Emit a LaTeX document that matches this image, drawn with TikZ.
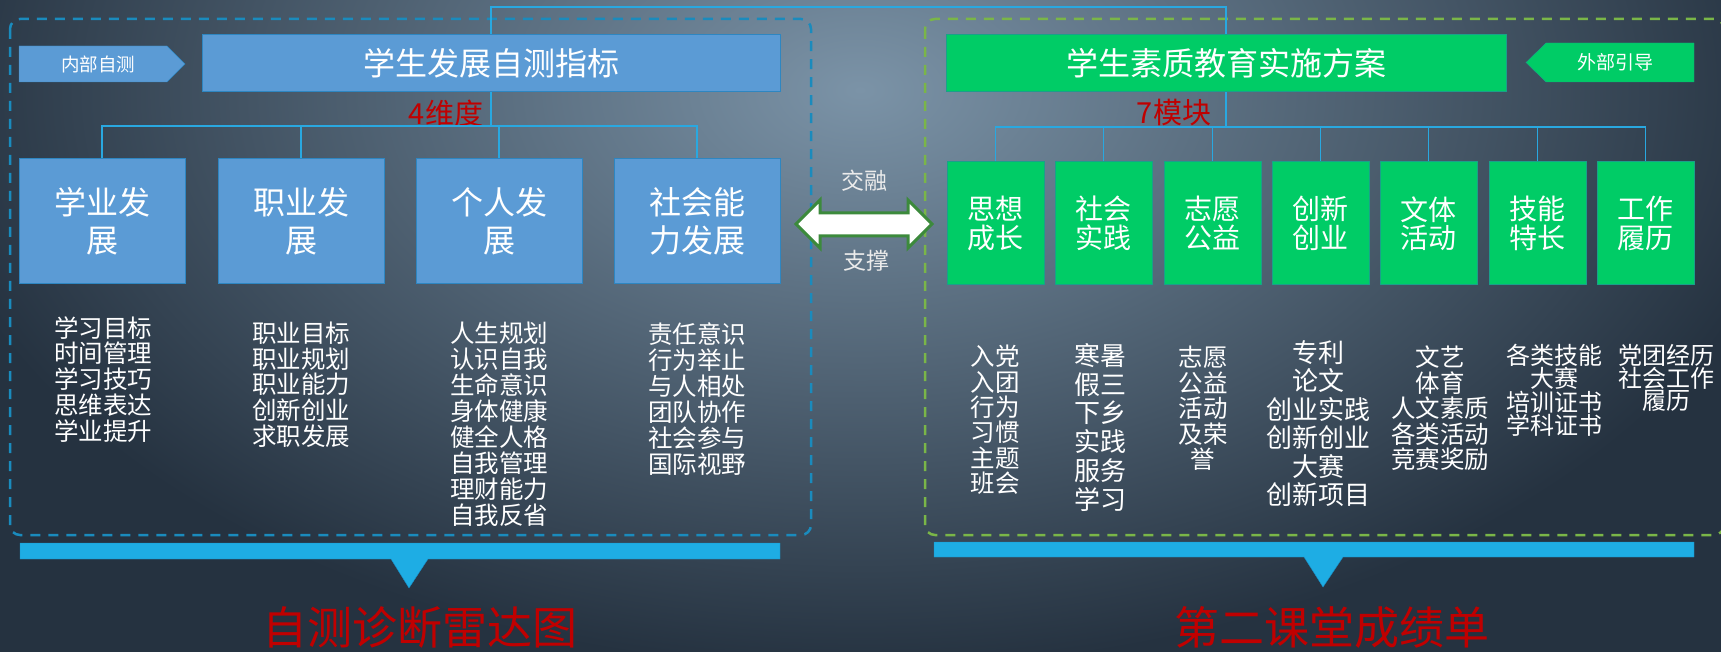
\documentclass[tikz,border=0pt]{standalone}
\usepackage{fontspec}
\setmainfont{Noto Sans CJK SC}
\definecolor{bgdark}{HTML}{253240}
\definecolor{bglight}{HTML}{7B93A7}
\definecolor{boxblue}{HTML}{5B9BD5}
\definecolor{boxblueline}{HTML}{2E86C1}
\definecolor{boxgreen}{HTML}{00CC66}
\definecolor{boxgreenline}{HTML}{1AA08A}
\definecolor{linkblue}{HTML}{29A8E0}
\definecolor{barblue}{HTML}{1EADE4}
\definecolor{barline}{HTML}{1A8CC4}
\definecolor{dimred}{HTML}{C00000}
\definecolor{dashblue}{HTML}{1A8BBD}
\definecolor{dashgreen}{HTML}{7AB648}
\definecolor{arrowgreen}{HTML}{3C8A3C}

\begin{document}
\begin{tikzpicture}[x=1pt,y=-1pt,
  link/.style={draw=linkblue,line width=1.5pt},
  titlebox/.style={minimum height=57pt,inner sep=0pt,text=white,line width=1pt,font=\fontsize{32}{38}\selectfont},
  lbox/.style={minimum width=166pt,minimum height=125pt,inner sep=0pt,fill=boxblue,draw=boxblueline,line width=1pt,text=white,align=center,font=\fontsize{32}{38}\selectfont},
  rbox/.style={minimum width=97pt,minimum height=123pt,inner sep=0pt,fill=boxgreen,draw=boxgreenline,line width=1pt,text=white,align=center,font=\fontsize{28}{28.5}\selectfont},
  listtext/.style={text=white,align=center,inner sep=0pt,anchor=north},
  redtext/.style={text=dimred,inner sep=0pt}]
  \useasboundingbox (0,0) rectangle (1721,652);
  \fill[bgdark] (0,0) rectangle (1721,652);
  \begin{scope}
    \clip (0,0) rectangle (1721,652);
    \shade[inner color=bglight,outer color=bgdark] (860,90) ellipse (950pt and 580pt);
    \draw[dashblue,line width=2.5pt,dash pattern=on 10pt off 8pt,rounded corners=10pt] (10,19) rectangle (811,535);
    \draw[dashgreen,line width=2.5pt,dash pattern=on 10pt off 8pt,rounded corners=10pt] (925,19) rectangle (1724,535);
  \end{scope}

  \fill[boxblue,draw=boxblueline] (19,46) -- (167,46) -- (185,64) -- (167,82) -- (19,82) -- cycle;
  \fill[boxgreen,draw=boxgreenline] (1526,62.5) -- (1546,43) -- (1694,43) -- (1694,82) -- (1546,82) -- cycle;
  \node[text=white,font=\fontsize{18.5}{20}\selectfont] (inner) at (98,64) {内部自测};
  \node[text=white,font=\fontsize{19}{20}\selectfont] (outer) at (1615,62) {外部引导};

  \node[titlebox,minimum width=578pt,fill=boxblue,draw=boxblueline] (ltitle) at (491,63.5) {学生发展自测指标};
  \node[titlebox,minimum width=560pt,fill=boxgreen,draw=boxgreenline] (rtitle) at (1226,63.5) {学生素质教育实施方案};

  \node[redtext,font=\fontsize{29}{30}\selectfont] (wei) at (446,113) {4维度};
  \node[redtext,font=\fontsize{29}{30}\selectfont] (mokuai) at (1174,113) {7模块};

  \node[lbox] (xueye) at (102,221.5) {学业发\\展};
  \node[lbox] (zhiye) at (301,221.5) {职业发\\展};
  \node[lbox] (geren) at (499,221.5) {个人发\\展};
  \node[lbox] (shehui) at (697,221.5) {社会能\\力发展};

  \node[rbox] (sixiang) at (995.5,223.5) {思想\\成长};
  \node[rbox] (shijian) at (1103.5,223.5) {社会\\实践};
  \node[rbox] (zhiyuan) at (1212.5,223.5) {志愿\\公益};
  \node[rbox] (chuangxin) at (1320.5,223.5) {创新\\创业};
  \node[rbox] (wenti) at (1428.5,223.5) {文体\\活动};
  \node[rbox] (jineng) at (1537.5,223.5) {技能\\特长};
  \node[rbox] (gongzuo) at (1645.5,223.5) {工作\\履历};

  \coordinate (top) at (0,7);
  \coordinate (lbus) at (0,126);
  \coordinate (rbus) at (0,127);
  \draw[link] (ltitle.north) -- (ltitle.north |- top) -| (rtitle.north);
  \draw[link] (ltitle.south) -- (ltitle.south |- lbus) -| (xueye.north);
  \draw[link] (ltitle.south) -- (ltitle.south |- lbus) -| (zhiye.north);
  \draw[link] (ltitle.south) -- (ltitle.south |- lbus) -| (geren.north);
  \draw[link] (ltitle.south) -- (ltitle.south |- lbus) -| (shehui.north);
  \draw[link] (rtitle.south) -- (rtitle.south |- rbus) -| (sixiang.north);
  \draw[link] (rtitle.south) -- (rtitle.south |- rbus) -| (shijian.north);
  \draw[link] (rtitle.south) -- (rtitle.south |- rbus) -| (zhiyuan.north);
  \draw[link] (rtitle.south) -- (rtitle.south |- rbus) -| (chuangxin.north);
  \draw[link] (rtitle.south) -- (rtitle.south |- rbus) -| (wenti.north);
  \draw[link] (rtitle.south) -- (rtitle.south |- rbus) -| (jineng.north);
  \draw[link] (rtitle.south) -- (rtitle.south |- rbus) -| (gongzuo.north);

  \node[listtext,font=\fontsize{24.5}{25.8}\selectfont] (xueyelist) at (103,316) {学习目标\\时间管理\\学习技巧\\思维表达\\学业提升};
  \node[listtext,font=\fontsize{24.5}{25.6}\selectfont] (zhiyelist) at (301,322) {职业目标\\职业规划\\职业能力\\创新创业\\求职发展};
  \node[listtext,font=\fontsize{24.5}{26}\selectfont] (gerenlist) at (499,322) {人生规划\\认识自我\\生命意识\\身体健康\\健全人格\\自我管理\\理财能力\\自我反省};
  \node[listtext,font=\fontsize{24.5}{26}\selectfont] (shehuilist) at (697,322) {责任意识\\行为举止\\与人相处\\团队协作\\社会参与\\国际视野};

  \node[listtext,font=\fontsize{24.5}{25.4}\selectfont] (sixianglist) at (995,345) {入党\\入团\\行为\\习惯\\主题\\班会};
  \node[listtext,font=\fontsize{26}{28.8}\selectfont] (shijianlist) at (1100,343) {寒暑\\假三\\下乡\\实践\\服务\\学习};
  \node[listtext,font=\fontsize{24.5}{25.5}\selectfont] (zhiyuanlist) at (1203,346) {志愿\\公益\\活动\\及荣\\誉};
  \node[listtext,font=\fontsize{26}{28.5}\selectfont] (chuangxinlist) at (1318,340) {专利\\论文\\创业实践\\创新创业\\大赛\\创新项目};
  \node[listtext,font=\fontsize{24.5}{25.4}\selectfont] (wentilist) at (1440,346) {文艺\\体育\\人文素质\\各类活动\\竞赛奖励};
  \node[listtext,font=\fontsize{24}{22}\selectfont] (jinenglist) at (1554,344) {各类技能\\大赛\\培训证书\\学科证书};
  \node[listtext,font=\fontsize{24}{22}\selectfont] (gongzuolist) at (1666,344) {党团经历\\社会工作\\履历};

  \fill[white,draw=arrowgreen,line width=3pt,line join=miter] (796,224) -- (820,200) -- (820,213) -- (908,213) -- (908,200) -- (932,224) -- (908,248) -- (908,236) -- (820,236) -- (820,248) -- cycle;
  \node[text=white!92!black,font=\fontsize{23}{25}\selectfont] (jiaorong) at (864,181) {交融};
  \node[text=white!92!black,font=\fontsize{23}{25}\selectfont] (zhicheng) at (866,261) {支撑};

  \fill[barblue,draw=barline] (20,543) -- (780,543) -- (780,559) -- (428,559) -- (409,588) -- (391,559) -- (20,559) -- cycle;
  \fill[barblue,draw=barline] (934,542) -- (1694,542) -- (1694,557) -- (1343,557) -- (1323,587) -- (1304,557) -- (934,557) -- cycle;

  \node[redtext,font=\fontsize{45}{50}\selectfont] (radar) at (420,627) {自测诊断雷达图};
  \node[redtext,font=\fontsize{45}{50}\selectfont] (chengji) at (1332,627) {第二课堂成绩单};
\end{tikzpicture}
\end{document}
